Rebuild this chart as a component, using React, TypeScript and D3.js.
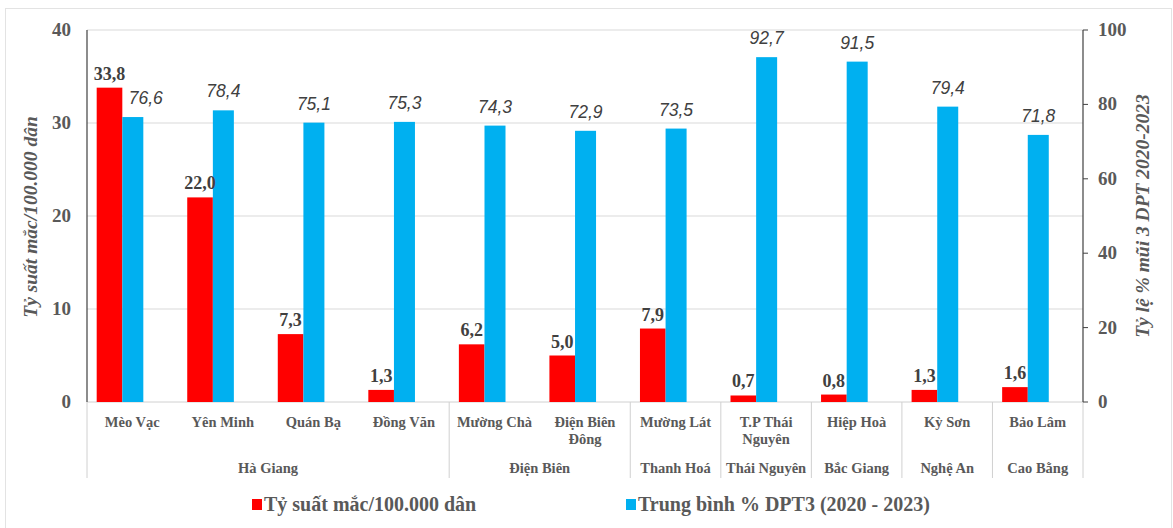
import React from "react";
import * as d3 from "d3";

// Districts (first row of the category axis) and their provinces (second row)
const districts: string[][] = [
  ["Mèo Vạc"],
  ["Yên Minh"],
  ["Quán Bạ"],
  ["Đồng Văn"],
  ["Mường Chà"],
  ["Điện Biên", "Đông"],
  ["Mường Lát"],
  ["T.P Thái", "Nguyên"],
  ["Hiệp Hoà"],
  ["Kỳ Sơn"],
  ["Bảo Lâm"],
];
const provinces = ["Hà Giang", "Điện Biên", "Thanh Hoá", "Thái Nguyên", "Bắc Giang", "Nghệ An", "Cao Bằng"];
const provinceSpans = [4, 2, 1, 1, 1, 1, 1];

// Incidence per 100,000 population (left axis)
const incidence = [33.8, 22.0, 7.3, 1.3, 6.2, 5.0, 7.9, 0.7, 0.8, 1.3, 1.6];
// Average DPT3 coverage 2020–2023, % (right axis)
const dpt3 = [76.6, 78.4, 75.1, 75.3, 74.3, 72.9, 73.5, 92.7, 91.5, 79.4, 71.8];

const leftTicks = [0, 10, 20, 30, 40];
const rightTicks = [0, 20, 40, 60, 80, 100];

const seriesNames = ["Tỷ suất mắc/100.000 dân", "Trung bình % DPT3 (2020 - 2023)"];
const leftTitle = "Tỷ suất mắc/100.000 dân";
const rightTitle = "Tỷ lệ % mũi  3 DPT 2020-2023";

const RED = "#FF0000";
const BLUE = "#00B0F0";
const SERIF = "'Liberation Serif', 'Times New Roman', serif";
const SANS = "'Liberation Sans', Arial, sans-serif";

const fmt = (v: number) => v.toFixed(1).replace(".", ",");

export default function App() {
  const W = 1173;
  const H = 528;
  const left = 87;
  const right = 1083;
  const top = 30;
  const bottom = 402;

  const keys = districts.map((d) => d.join(" "));
  const x = d3.scaleBand<string>().domain(keys).range([left, right]).padding(0);
  const bw = x.bandwidth();
  const yL = d3.scaleLinear().domain([0, 40]).range([bottom, top]);
  const yR = d3.scaleLinear().domain([0, 100]).range([bottom, top]);

  const redX = (i: number) => (x(keys[i]) as number) + bw * 0.107;
  const redW = bw * 0.283;
  const blueX = (i: number) => (x(keys[i]) as number) + bw * 0.39;
  const blueW = bw * 0.232;

  // province boundaries along the category axis
  const bounds: number[] = [0];
  provinceSpans.reduce((acc, s) => {
    bounds.push(acc + s);
    return acc + s;
  }, 0);
  const boundX = (k: number) => (k >= keys.length ? right : (x(keys[k]) as number));

  return (
    <div style={{ position: "absolute", left: 0, top: 0 }}>
      <svg width={W} height={H} style={{ display: "block", background: "#fff" }}>
        <rect x={5.5} y={8.5} width={1166} height={525} fill="#fff" stroke="#e3e3e3" />

        {/* gridlines */}
        {leftTicks.slice(1).map((t) => (
          <line key={t} x1={left} x2={right} y1={yL(t)} y2={yL(t)} stroke="#d9d9d9" strokeWidth={1} />
        ))}
        <line x1={left} x2={right} y1={bottom} y2={bottom} stroke="#d0d0d0" />

        {/* category separators */}
        {bounds.map((k) => (
          <line key={k} x1={boundX(k)} x2={boundX(k)} y1={bottom} y2={478} stroke="#d0d0d0" />
        ))}

        {/* bars */}
        {incidence.map((v, i) => (
          <rect key={"r" + i} x={redX(i)} y={yL(v)} width={redW} height={bottom - yL(v)} fill={RED} />
        ))}
        {dpt3.map((v, i) => (
          <rect key={"b" + i} x={blueX(i)} y={yR(v)} width={blueW} height={bottom - yR(v)} fill={BLUE} />
        ))}

        {/* axes */}
        <line x1={left} x2={left} y1={top} y2={bottom} stroke="#404040" strokeWidth={1.2} />
        <line x1={right} x2={right} y1={top} y2={bottom} stroke="#404040" strokeWidth={1.2} />
        {rightTicks.map((t) => (
          <line key={t} x1={right} x2={right + 5} y1={yR(t)} y2={yR(t)} stroke="#404040" />
        ))}

        {leftTicks.map((t) => (
          <text key={t} x={71} y={yL(t) + 6} textAnchor="end" fontFamily={SERIF} fontWeight="bold" fontSize={19} fill="#595959">
            {t}
          </text>
        ))}
        {rightTicks.map((t) => (
          <text key={t} x={1098} y={yR(t) + 6} textAnchor="start" fontFamily={SERIF} fontWeight="bold" fontSize={19} fill="#595959">
            {t}
          </text>
        ))}

        <text
          transform={`translate(37,${(top + bottom) / 2 + 1}) rotate(-90)`}
          textAnchor="middle"
          fontFamily={SERIF}
          fontWeight="bold"
          fontStyle="italic"
          fontSize={19.5}
          fill="#595959"
        >
          {leftTitle}
        </text>
        <text
          transform={`translate(1149,${(top + bottom) / 2}) rotate(-90)`}
          textAnchor="middle"
          fontFamily={SERIF}
          fontWeight="bold"
          fontStyle="italic"
          fontSize={19.5}
          fill="#595959"
        >
          {rightTitle}
        </text>

        {/* value labels */}
        {incidence.map((v, i) => (
          <text
            key={"rl" + i}
            x={redX(i) + redW / 2}
            y={yL(v) - 8}
            textAnchor="middle"
            fontFamily={SERIF}
            fontWeight="bold"
            fontSize={18}
            fill="#404040"
          >
            {fmt(v)}
          </text>
        ))}
        {dpt3.map((v, i) => {
          // nudge a label sideways when the neighbouring red label reaches its height
          const clash = yL(incidence[i]) - 26 < yR(dpt3[i]) - 13 && yL(incidence[i]) > yR(dpt3[i]) - 60;
          const dx = clash ? 13 : 0;
          return (
            <text
              key={"bl" + i}
              x={blueX(i) + blueW / 2 + dx}
              y={yR(v) - 13}
              textAnchor="middle"
              fontFamily={SANS}
              fontStyle="italic"
              fontSize={17.5}
              fill="#404040"
            >
              {fmt(v)}
            </text>
          );
        })}

        {/* category labels */}
        {districts.map((lines, i) => (
          <text
            key={"c" + i}
            x={(x(keys[i]) as number) + bw / 2}
            y={427}
            textAnchor="middle"
            fontFamily={SERIF}
            fontWeight="bold"
            fontSize={14.5}
            fill="#595959"
          >
            {lines.map((l, j) => (
              <tspan key={j} x={(x(keys[i]) as number) + bw / 2} dy={j === 0 ? 0 : 17}>
                {l}
              </tspan>
            ))}
          </text>
        ))}
        {provinces.map((p, k) => {
          const cx = (boundX(bounds[k]) + boundX(bounds[k + 1])) / 2;
          return (
            <text key={p} x={cx} y={473} textAnchor="middle" fontFamily={SERIF} fontWeight="bold" fontSize={14.5} fill="#595959">
              {p}
            </text>
          );
        })}

        {/* legend */}
        <rect x={252} y={499} width={10} height={11} fill={RED} />
        <text x={264} y={511} fontFamily={SERIF} fontWeight="bold" fontSize={20} fill="#595959">
          {seriesNames[0]}
        </text>
        <rect x={626} y={499} width={10} height={11} fill={BLUE} />
        <text x={638} y={511} fontFamily={SERIF} fontWeight="bold" fontSize={20} fill="#595959">
          {seriesNames[1]}
        </text>
      </svg>
    </div>
  );
}
